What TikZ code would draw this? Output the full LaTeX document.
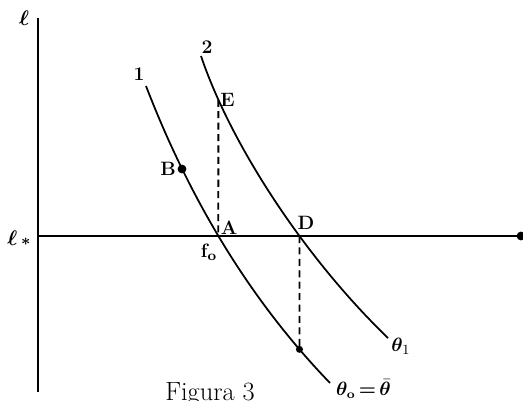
\documentclass[tikz,border=0pt]{standalone}
\usepackage{amsmath,bm}
\usetikzlibrary{intersections}
\begin{document}
\begin{tikzpicture}[x=0.02cm,y=-0.02cm,
  axis/.style={line width=1.2pt},
  curve/.style={line width=1pt},
  guide/.style={line width=1pt,dash pattern=on 4pt off 2.5pt},
  lbl/.style={font=\bfseries\fontsize{11}{13}\selectfont,inner sep=1pt},
  dot/.style={circle,fill=black,inner sep=0pt,minimum size=#1}]
\useasboundingbox (0,0) rectangle (523,400);
% axes
\coordinate (top) at (38,18);
\coordinate (bot) at (38,392);
\coordinate (hl) at (38,236);
\node[dot=5pt] (hr) at (521,236) {};
\draw[axis] (top) -- (bot);
\draw[axis,name path=hline] (hl) -- (hr.center);
% curves
\draw[curve,name path=c1] (146,86) .. controls (190,200) and (250,300) .. (330,383);
\draw[curve,name path=c2] (201,56) .. controls (231,145) and (305,258) .. (388,338);
% points
\path[name intersections={of=hline and c1,by=A}];
\path[name intersections={of=hline and c2,by=D}];
\path[name path=vA] (A) -- ++(0,-250);
\path[name path=vD] (D) -- ++(0,200);
\path[name intersections={of=vA and c2,by=E}];
\path[name intersections={of=vD and c1,by=Fp}];
\node[dot=4pt] (F) at (Fp) {};
\node[dot=5pt] (B) at (182,169) {};
% dashed guides
\draw[guide] (E) -- (A);
\draw[guide] (D) -- (F.center);
% labels
\node[lbl,font=\bfseries\fontsize{13}{15}\selectfont] (ell) at (24,18) {$\bm{\ell}$};
\node[lbl,font=\bfseries\fontsize{13}{15}\selectfont] (ells) at (19,238) {$\bm{\ell}$\,{\fontsize{9}{10}\selectfont$\bm{*}$}};
\node[lbl] (l1) at (139,74) {1};
\node[lbl] (l2) at (207,47) {2};
\node[lbl,anchor=west] (lE) at (E) {E};
\node[lbl] (lB) at (168,169) {B};
\node[lbl] (lA) at (229,228) {A};
\node[lbl] (lf) at (209,252) {f$_{\mathbf{o}}$};
\node[lbl] (lD) at (306,223) {D};
\node[lbl] (t1) at (401,346) {$\bm{\theta}_{1}$};
\node[lbl,anchor=west,font=\bfseries\fontsize{10.5}{12}\selectfont] (t0) at (334,389) {$\bm{\theta}_{\mathbf{o}}\,{\bm{=}}\,\bar{\bm{\theta}}$};
\node[font=\fontsize{15}{17}\selectfont,anchor=north,inner sep=0pt] (fig) at (210,382) {Figura 3};
\end{tikzpicture}
\end{document}
